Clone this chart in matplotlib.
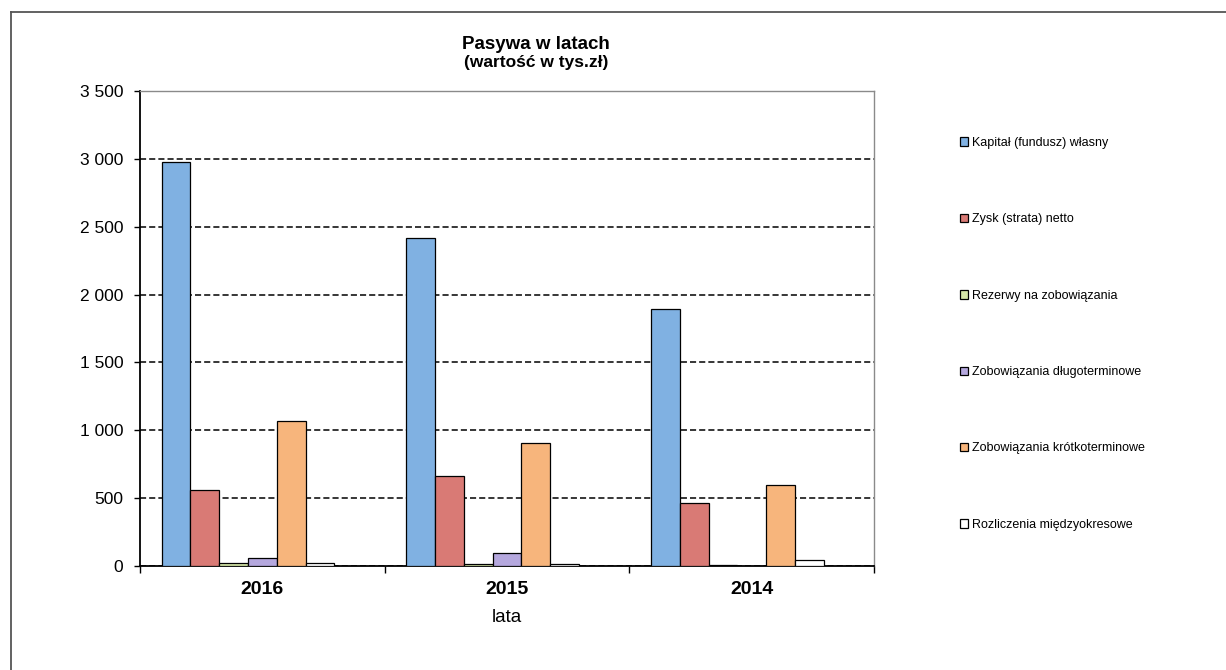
"""Pasywa w latach: clustered bars per year, legend stacked on the right (Excel-style)."""

import matplotlib

matplotlib.use("Agg")
import matplotlib.pyplot as plt
import numpy as np
from matplotlib.lines import Line2D
from matplotlib.ticker import FuncFormatter, MultipleLocator

plt.rcParams["font.family"] = ["Liberation Sans", "DejaVu Sans"]

years = ["2016", "2015", "2014"]
series = [
    "Kapitał (fundusz) własny",
    "Zysk (strata) netto",
    "Rezerwy na zobowiązania",
    "Zobowiązania długoterminowe",
    "Zobowiązania krótkoterminowe",
    "Rozliczenia międzyokresowe",
]
kapital = [2975, 2420, 1895]
zysk = [560, 665, 465]
rezerwy = [20, 15, 10]
dlugo = [60, 95, 0]
krotko = [1065, 910, 595]
rozliczenia = [20, 12, 45]
values = [kapital, zysk, rezerwy, dlugo, krotko, rozliczenia]

colors = ["#80b1e2", "#d97a75", "#d5e6a8", "#b5a8de", "#f7b57c", "#ffffff"]

fig = plt.figure(figsize=(12.26, 6.70), dpi=100, facecolor="white")
ax = fig.add_axes([0.1142, 0.1552, 0.5987, 0.709])

# the source sheet reserves 7 slots per year (last one empty), gap width 150%
slots = 7
w = 1 / (slots + 1.5)
x = np.arange(len(years))
for j, (name, vals, col) in enumerate(zip(series, values, colors)):
    ax.bar(x - slots * w / 2 + (j + 0.5) * w, vals, width=w, color=col,
           edgecolor="black", linewidth=0.9, label=name, zorder=3)

ax.set_xlim(-0.5, len(years) - 0.5)
ax.set_ylim(0, 3500)
ax.yaxis.set_major_locator(MultipleLocator(500))
ax.yaxis.set_major_formatter(FuncFormatter(lambda v, _: f"{v:,.0f}".replace(",", " ")))
ax.grid(axis="y", color="black", linestyle=(0, (4, 2)), linewidth=1.1, zorder=1)

ax.set_xticks(x)
ax.set_xticklabels(years, fontsize=14, fontweight="bold")
ax.set_xticks(np.arange(len(years) + 1) - 0.5, minor=True)
ax.tick_params(axis="x", which="major", length=0, pad=11)
ax.tick_params(axis="x", which="minor", length=5, width=1, direction="out")
ax.tick_params(axis="y", labelsize=12.5, length=4, width=1, direction="out", pad=8)

for side in ("left", "bottom"):
    ax.spines[side].set_color("black")
    ax.spines[side].set_linewidth(1.3)
for side in ("top", "right"):
    ax.spines[side].set_color("#8a8a8a")
    ax.spines[side].set_linewidth(1.0)

ax.set_xlabel("lata", fontsize=13.5, labelpad=8)

fig.text(0.437, 0.934, "Pasywa w latach", ha="center", va="center",
         fontsize=13.5, fontweight="bold")
fig.text(0.437, 0.906, "(wartość w tys.zł)", ha="center", va="center",
         fontsize=12.5, fontweight="bold")

ax.legend(loc="upper left", bbox_to_anchor=(0.779, 0.803), bbox_transform=fig.transFigure,
          frameon=False, fontsize=9, handlelength=0.65, handleheight=0.65,
          handletextpad=0.3, labelspacing=5.15, borderaxespad=0)

# scanned page frame: top and left edges only
fig.add_artist(Line2D([0.009, 1.0], [0.982, 0.982], color="#555555", linewidth=1.3,
                      transform=fig.transFigure))
fig.add_artist(Line2D([0.009, 0.009], [0.0, 0.982], color="#555555", linewidth=1.3,
                      transform=fig.transFigure))

fig.savefig("out.png", dpi=100, facecolor="white")
